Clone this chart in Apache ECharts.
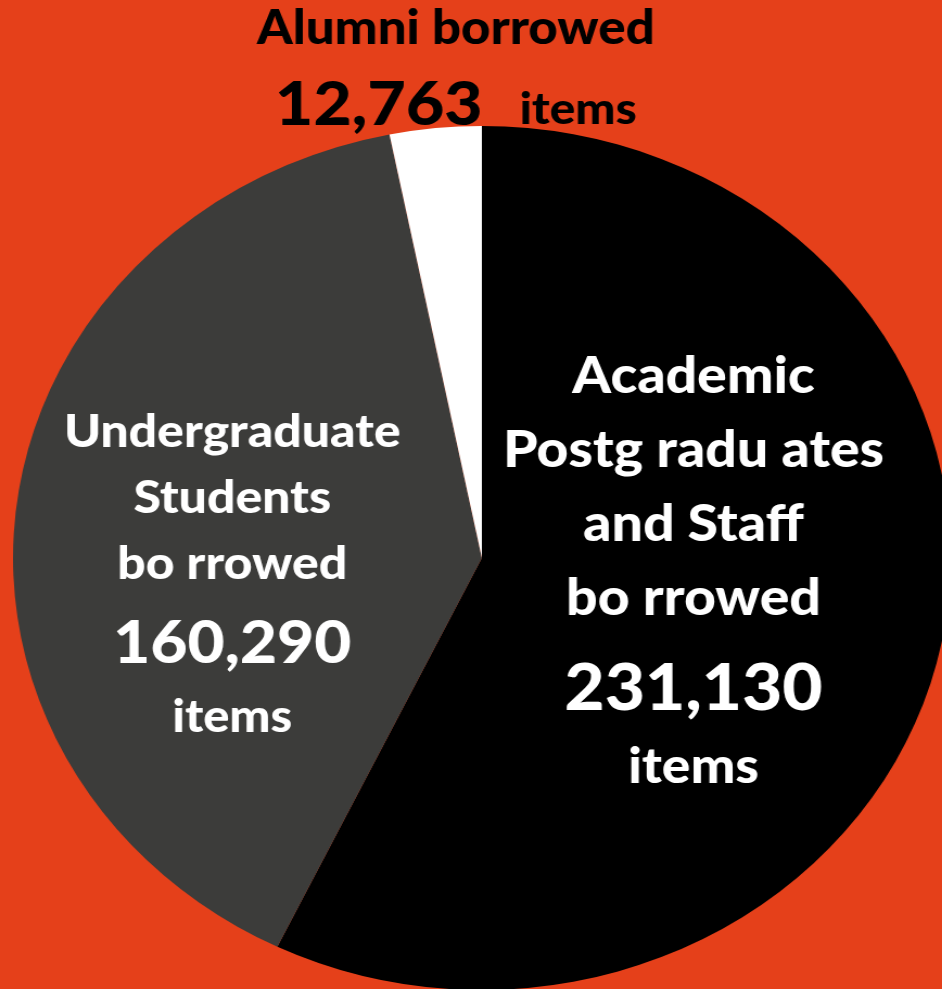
<!DOCTYPE html>
<html>
<head>
<meta charset="utf-8">
<title>Items borrowed by user group</title>
<script src="https://cdn.jsdelivr.net/npm/echarts@6/dist/echarts.min.js"></script>
<style>
  html, body { margin: 0; padding: 0; background: #E5401A; overflow: hidden; }
  /* the artwork is drawn slightly wider than tall, so the stage is stretched horizontally */
  #stage { width: 868px; height: 989px; transform: scaleX(1.0853); transform-origin: 0 0; }
</style>
</head>
<body>
<div id="stage"></div>
<script>
// user groups, in drawing order (clockwise from 12 o'clock)
const groups = ['Academic Postgraduates and Staff', 'Undergraduate Students', 'Alumni'];
// items borrowed per group
const borrowed = [231130, 160290, 12763];
// heading lines printed above each figure
const headLines = [
  ['Academic', 'Postg radu ates', 'and Staff', 'bo rrowed'],
  ['Undergraduate', 'Students', 'bo rrowed'],
  ['Alumni borrowed']
];
const unitWord = 'items';

const fmt = v => v.toLocaleString('en-US');

const chart = echarts.init(document.getElementById('stage'), null, { renderer: 'canvas' });

// label block centres (stage coordinates, before the horizontal stretch)
const labelSpots = [
  { x: 639, y: 566 },
  { x: 214, y: 571 },
  { x: 420, y: 66 }
];

const FONT = 'Lato, "Open Sans", sans-serif';
const W = 900;

function labelText(i) {
  const heads = headLines[i];
  if (i === 2) {
    return '{ah|' + heads[0] + '}\n{an|' + fmt(borrowed[i]) + '}{ai|' + unitWord + '}';
  }
  const p = i === 0 ? 'a' : 'u';
  return heads.map(h => '{' + p + 'h|' + h + '}').join('\n') +
    '\n{' + p + 'n|' + fmt(borrowed[i]) + '}' +
    '\n{' + p + 'i|' + unitWord + '}';
}

const option = {
  backgroundColor: '#E5401A',
  animation: false,
  series: [{
    type: 'pie',
    center: [444, 558],
    radius: [0, 432],
    startAngle: 90,
    clockwise: true,
    silent: true,
    avoidLabelOverlap: false,
    itemStyle: { borderWidth: 0 },
    labelLine: { show: false },
    label: {
      show: true,
      position: 'inside',
      formatter: p => labelText(p.dataIndex),
      fontFamily: FONT,
      fontWeight: W,
      rich: {
        ah: { fontFamily: FONT, fontWeight: W, fontSize: 51, lineHeight: 74, color: '#fff' },
        an: { fontFamily: FONT, fontWeight: W, fontSize: 64, lineHeight: 106, color: '#fff' },
        ai: { fontFamily: FONT, fontWeight: W, fontSize: 49, lineHeight: 50, color: '#fff' },
        uh: { fontFamily: FONT, fontWeight: W, fontSize: 46, lineHeight: 66, color: '#fff' },
        un: { fontFamily: FONT, fontWeight: W, fontSize: 59, lineHeight: 94, color: '#fff' },
        ui: { fontFamily: FONT, fontWeight: W, fontSize: 45, lineHeight: 52, color: '#fff' }
      }
    },
    labelLayout: p => ({
      x: labelSpots[p.dataIndex].x,
      y: labelSpots[p.dataIndex].y,
      align: 'center',
      verticalAlign: 'middle'
    }),
    data: [
      { name: groups[0], value: borrowed[0], itemStyle: { color: '#000000' } },
      { name: groups[1], value: borrowed[1], itemStyle: { color: '#3C3C3A' } },
      {
        name: groups[2], value: borrowed[2], itemStyle: { color: '#FFFFFF' },
        label: {
          rich: {
            ah: { fontFamily: FONT, fontWeight: W, fontSize: 47, lineHeight: 66, color: '#000' },
            an: { fontFamily: FONT, fontWeight: W, fontSize: 61, lineHeight: 74, color: '#000', verticalAlign: 'bottom' },
            ai: { fontFamily: FONT, fontWeight: W, fontSize: 44, lineHeight: 74, color: '#000', verticalAlign: 'bottom', padding: [0, 0, 4, 34] }
          }
        }
      }
    ]
  }]
};

chart.setOption(option);
</script>
</body>
</html>
